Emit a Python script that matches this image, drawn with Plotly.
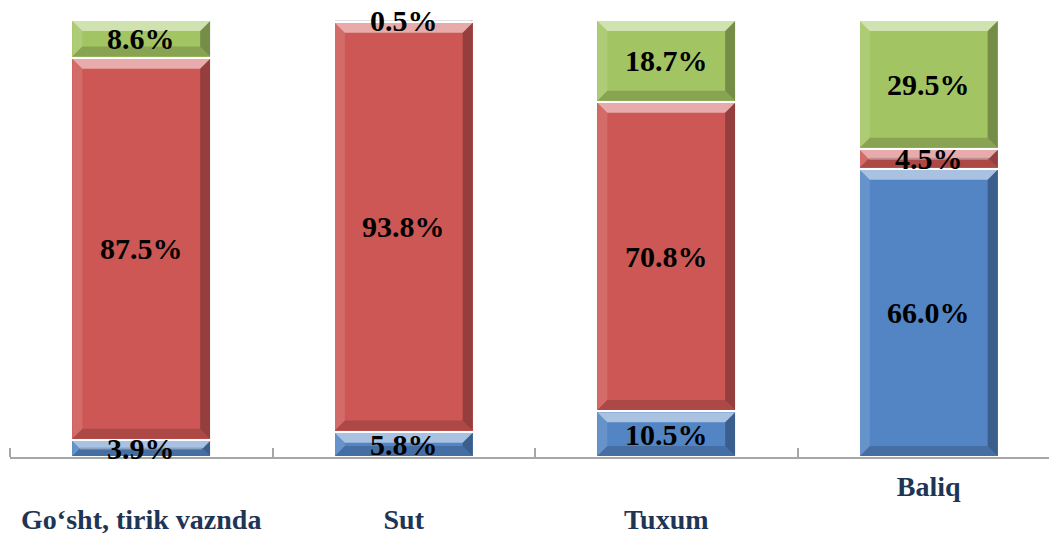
import plotly.graph_objects as go

categories = ["Go‘sht, tirik vaznda", "Sut", "Tuxum", "Baliq"]
blue_vals = [3.9, 5.8, 10.5, 66.0]
red_vals = [87.5, 93.8, 70.8, 4.5]
green_vals = [8.6, 0.5, 18.7, 29.5]

series = [
    ("blue", blue_vals, "#5384C4"),
    ("red", red_vals, "#CD5755"),
    ("green", green_vals, "#A3C462"),
]

fig = go.Figure()
for name, vals, col in series:
    fig.add_trace(go.Bar(
        x=list(range(len(categories))), y=vals, name=name,
        marker=dict(color=col, line=dict(color="white", width=2)),
        width=0.533, hoverinfo="skip", showlegend=False,
    ))

# plot geometry (px) for bevel conversion
PX_X = 262.5   # px per category
PX_Y = 4.37    # px per percent
HW = 0.533 / 2

shapes = []
annotations = []
for i in range(len(categories)):
    base = 0.0
    for name, vals, col in series:
        v = vals[i]
        b, t = base, base + v
        base = t
        hpx = v * PX_Y
        bev = min(10.0, hpx / 2.0)
        dy = bev / PX_Y
        dx = bev / PX_X
        x0, x1 = i - HW + 0.004, i + HW - 0.004
        yb, yt = b + 0.25, t - 0.25
        shapes.append(dict(type="path", xref="x", yref="y", line=dict(width=0),
                           fillcolor="rgba(255,255,255,0.5)",
                           path=f"M{x0},{yt} L{x1},{yt} L{x1-dx},{yt-dy} L{x0+dx},{yt-dy} Z"))
        shapes.append(dict(type="path", xref="x", yref="y", line=dict(width=0),
                           fillcolor="rgba(0,0,0,0.16)",
                           path=f"M{x0},{yb} L{x1},{yb} L{x1-dx},{yb+dy} L{x0+dx},{yb+dy} Z"))
        shapes.append(dict(type="path", xref="x", yref="y", line=dict(width=0),
                           fillcolor="rgba(0,0,0,0.28)",
                           path=f"M{x1},{yt} L{x1},{yb} L{x1-dx},{yb+dy} L{x1-dx},{yt-dy} Z"))
        shapes.append(dict(type="path", xref="x", yref="y", line=dict(width=0),
                           fillcolor="rgba(255,255,255,0.12)",
                           path=f"M{x0},{yt} L{x0},{yb} L{x0+dx},{yb+dy} L{x0+dx},{yt-dy} Z"))
        annotations.append(dict(
            x=i, y=(b + t) / 2, xref="x", yref="y", text=f"<b>{v:.1f}%</b>",
            showarrow=False, yanchor="middle", xanchor="center",
            font=dict(family="Liberation Serif", size=30, color="black"),
        ))

tick_font = dict(family="Liberation Serif", size=28, color="#1F3555")
xrange = [-0.5, -0.5 + 1039 / PX_X]
low_idx = [0, 1, 2]
high_idx = [3]

fig.update_layout(
    barmode="stack",
    width=1049, height=536, autosize=False,
    margin=dict(l=10, r=0, t=20, b=79),
    paper_bgcolor="white", plot_bgcolor="white",
    shapes=shapes, annotations=annotations,
    xaxis=dict(
        range=xrange,
        tickmode="array", tickvals=low_idx,
        ticktext=[f"<b>{categories[i]}</b>" for i in low_idx],
        ticks="", showline=True, linecolor="#A6A6A6", linewidth=1.5,
        showgrid=False, zeroline=False, automargin=False,
        tickfont=tick_font, ticklabelstandoff=37,
        minor=dict(tickmode="array", tickvals=[-0.5, 0.5, 1.5, 2.5, 3.5],
                   ticks="inside", ticklen=9, tickcolor="#A6A6A6", tickwidth=1.5,
                   showgrid=False),
    ),
    xaxis2=dict(
        range=xrange, overlaying="x", anchor="y", side="bottom",
        tickmode="array", tickvals=high_idx,
        ticktext=[f"<b>{categories[i]}</b>" for i in high_idx],
        ticks="", showline=False, showgrid=False, zeroline=False, automargin=False,
        tickfont=tick_font, ticklabelstandoff=10,
    ),
    yaxis=dict(range=[0, 100], visible=False, showgrid=False),
)
fig.add_trace(go.Scatter(x=[], y=[], xaxis="x2", yaxis="y", showlegend=False))

fig.write_html("out.html", config={"displayModeBar": False},
               post_script="document.body.style.margin='0';")
